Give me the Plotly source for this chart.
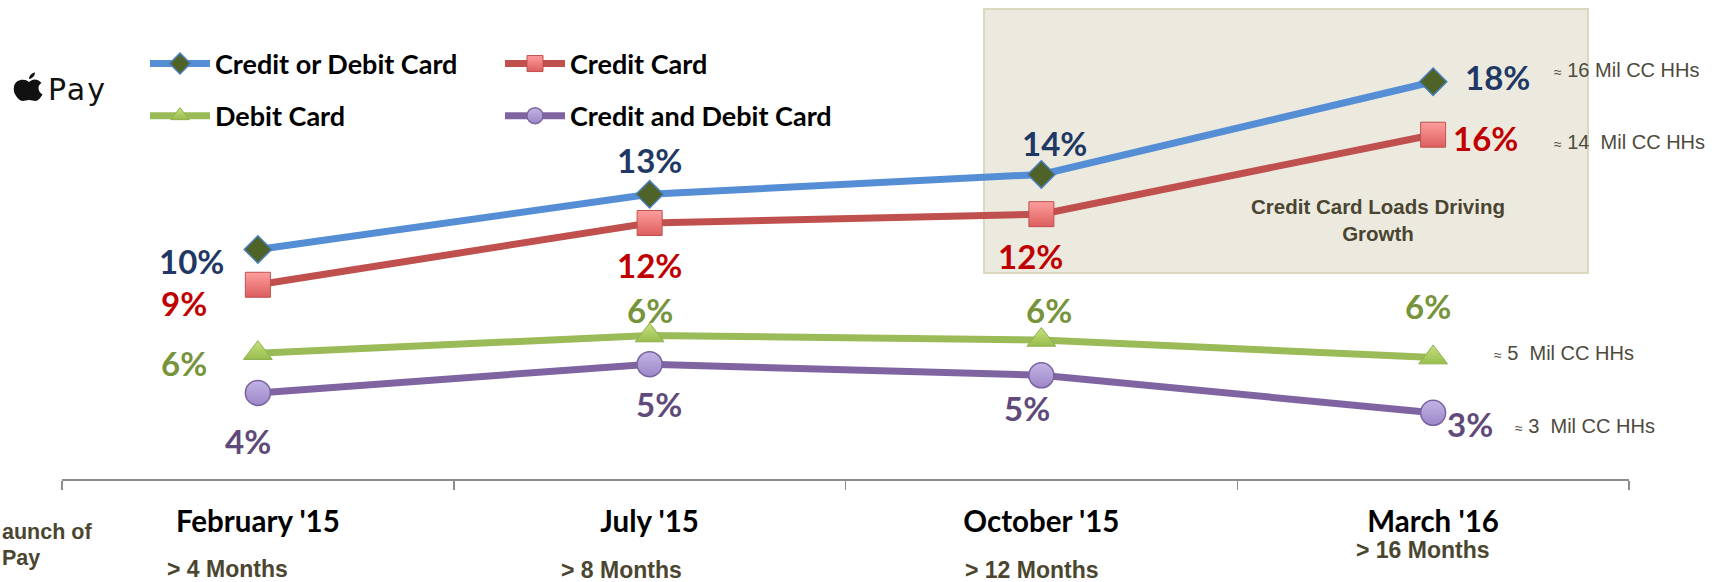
import re
import plotly.graph_objects as go

# ---------------- data ----------------
categories = ["February '15", "July '15", "October '15", "March '16"]
months_since = ["> 4 Months", "> 8 Months", "> 12 Months", "> 16 Months"]
series_names = ["Credit or Debit Card", "Credit Card", "Debit Card", "Credit and Debit Card"]

credit_or_debit = [10.4, 12.9, 13.8, 18.0]
credit_only = [8.8, 11.6, 12.0, 15.6]
debit_only = [5.7, 6.5, 6.3, 5.5]
credit_and_debit = [3.9, 5.2, 4.7, 3.0]

credit_or_debit_labels = ["10%", "13%", "14%", "18%"]
credit_only_labels = ["9%", "12%", "12%", "16%"]
debit_only_labels = ["6%", "6%", "6%", "6%"]
credit_and_debit_labels = ["4%", "5%", "5%", "3%"]

households = ["16", "14", "5", "3"]
box_note = "Credit Card Loads Driving<br>Growth"

# ---------------- geometry helpers ----------------
W, H = 1718, 582
PL, PR, PT, PB = 62, 1629, 10, 479
PW, PH = PR - PL, PB - PT
PX_PER_PCT = 22.07
YMAX = PH / PX_PER_PCT


def px2x(p):
    return (p - PL) / PW


def px2y(p):
    return (PB - p) / PH


def path_px(d):
    toks = re.findall(r"[A-Za-z]|-?\d+\.?\d*", d)
    out, nums = [], []
    for t in toks:
        if re.match(r"[A-Za-z]", t):
            out.append(t)
        else:
            nums.append(float(t))
            if len(nums) == 2:
                out.append(f"{px2x(nums[0]):.5f},{px2y(nums[1]):.5f}")
                nums = []
    return " ".join(out)


# ---------------- styles ----------------
line_colors = ["#558ED5", "#C0504D", "#9BBB59", "#8064A2"]
label_colors = ["#1F3864", "#C00000", "#77933C", "#604A7B"]
markers = [
    dict(symbol="diamond", size=21, color="#4F6228", line=dict(color="#4A7EBB", width=1.5)),
    dict(symbol="square", size=25, color="#FF9E9E", gradient=dict(type="vertical", color="#DC5E5E"),
         line=dict(color="#C0504D", width=1)),
    dict(symbol="triangle-up", size=25, color="#C7E07E", gradient=dict(type="vertical", color="#98BD4E"),
         line=dict(color="#8EAF4C", width=1)),
    dict(symbol="circle", size=25, color="#C2B4E4", gradient=dict(type="vertical", color="#9C87C8"),
         line=dict(color="#7B62A0", width=1.5)),
]
legend_of = ["legend", "legend2", "legend", "legend2"]

values = [credit_or_debit, credit_only, debit_only, credit_and_debit]
labels = [credit_or_debit_labels, credit_only_labels, debit_only_labels, credit_and_debit_labels]

# label offsets in pixels (dx right, dy down) from each point
label_offsets = [
    [(-66, 12), (0, -34), (13, -31), (64, -5)],
    [(-74, 18), (0, 42), (-11, 42), (52, 3)],
    [(-74, 10), (0, -26), (8, -30), (-5, -52)],
    [(-10, 48), (9, 40), (-14, 33), (37, 11)],
]
hh_offsets = [(119, -12), (119, 7), (59, -5), (80, 13)]

fig = go.Figure()
for i in range(4):
    fig.add_trace(go.Scatter(
        x=categories, y=values[i], name=series_names[i], mode="lines+markers",
        line=dict(color=line_colors[i], width=7), marker=markers[i],
        legend=legend_of[i], legendgroup=series_names[i], hoverinfo="skip",
        cliponaxis=False,
    ))

annotations = []
label_font = "Lato, 'Open Sans', sans-serif"
arial = "'Liberation Sans', Arial, sans-serif"
for i in range(4):
    for j in range(4):
        dx, dy = label_offsets[i][j]
        annotations.append(dict(
            x=categories[j], y=values[i][j], xref="x", yref="y", text=labels[i][j],
            showarrow=False, xshift=dx, yshift=-dy, xanchor="center", yanchor="middle",
            font=dict(family=label_font, size=33, color=label_colors[i], weight="bold"),
        ))
    dx, dy = hh_offsets[i]
    annotations.append(dict(
        x=categories[3], y=values[i][3], xref="x", yref="y",
        text="<span style='font-size:14px'>≈</span> " + households[i] + ("" if i == 0 else "\u00a0") + " Mil CC HHs",
        showarrow=False, xshift=dx, yshift=-dy, xanchor="left", yanchor="middle",
        font=dict(family=arial, size=20, color="#4D4A3C"),
    ))

# months since launch
months_pos = [(-30, 569), (-28, 570), (-9, 570), (-10, 550)]
for j in range(4):
    dx, py = months_pos[j]
    annotations.append(dict(
        x=categories[j], xref="x", y=px2y(py), yref="paper", text=months_since[j],
        showarrow=False, xshift=dx, xanchor="center", yanchor="middle",
        font=dict(family=arial, size=23, color="#4B4630", weight="bold"),
    ))

# cut-off left note
annotations.append(dict(x=px2x(0), y=px2y(532), xref="paper", yref="paper", text="aunch of",
                        showarrow=False, xanchor="left", yanchor="middle",
                        font=dict(family=arial, size=21.5, color="#4B4630", weight="bold")))
annotations.append(dict(x=px2x(0), y=px2y(558), xref="paper", yref="paper", text="Pay",
                        showarrow=False, xanchor="left", yanchor="middle",
                        font=dict(family=arial, size=21.5, color="#4B4630", weight="bold")))

# box note
annotations.append(dict(x=px2x(1378), y=px2y(219.5), xref="paper", yref="paper", text=box_note,
                        showarrow=False, xanchor="center", yanchor="middle", align="center",
                        font=dict(family=arial, size=20.5, color="#4A4530", weight="bold")))

# Apple Pay wordmark
annotations.append(dict(x=px2x(46), y=px2y(90), xref="paper", yref="paper",
                        text="<span style='letter-spacing:2px'>Pay</span>",
                        showarrow=False, xanchor="left", yanchor="middle",
                        font=dict(family="'DejaVu Sans', sans-serif", size=30, color="#111111")))

apple_body = ("M 29,82 C 26,79.5 21,79 17,81.5 C 13,84.5 13,91 15.5,95 C 17.5,98.5 20,101 22.5,101 "
              "C 25,101 26,100 29,100 C 32,100 33,101 35.5,101 C 38,101 40.5,98 42.5,94.5 "
              "C 40,93 38.5,91 38.5,88 C 38.5,85.5 40,84 41.5,83 C 39.5,80.5 37,79.5 34.5,79.5 "
              "C 32.5,79.5 31,80.8 29,82 Z")
apple_leaf = "M 29,79 C 29,76 31.5,73 35,72.5 C 35,75.5 32.5,78.5 29,79 Z"

shapes = [
    dict(type="rect", xref="paper", yref="paper", x0=px2x(984), x1=px2x(1588), y0=px2y(273), y1=px2y(9),
         fillcolor="#ECEADF", line=dict(color="#DCD8C0", width=2), layer="below"),
    dict(type="path", xref="paper", yref="paper", path=path_px(apple_body), fillcolor="#111111",
         line=dict(width=0)),
    dict(type="path", xref="paper", yref="paper", path=path_px(apple_leaf), fillcolor="#111111",
         line=dict(width=0)),
]

legend_common = dict(
    orientation="v", xref="container", yref="container", xanchor="left", yanchor="middle",
    bgcolor="rgba(0,0,0,0)", borderwidth=0, itemwidth=60, tracegroupgap=14, itemclick=False,
    font=dict(family=label_font, size=27, color="#000000", weight="bold"),
)

fig.update_layout(
    width=W, height=H, autosize=False,
    margin=dict(l=PL, r=W - PR, t=PT, b=H - PB, pad=0, autoexpand=False),
    paper_bgcolor="white", plot_bgcolor="white",
    showlegend=True,
    legend=dict(legend_common, x=145 / W, y=1 - 90 / H),
    legend2=dict(legend_common, x=500 / W, y=1 - 90 / H),
    xaxis=dict(
        type="category", categoryorder="array", categoryarray=categories,
        range=[-0.5, 3.5], tickson="boundaries", ticks="outside", ticklen=9,
        tickcolor="#8C8C8C", tickwidth=1.5, showline=True, linecolor="#8C8C8C", linewidth=1.5,
        showgrid=False, zeroline=False, ticklabelstandoff=16,
        tickfont=dict(family=label_font, size=29.5, color="#000000", weight="bold"),
        fixedrange=True,
    ),
    yaxis=dict(range=[0, YMAX], visible=False, showgrid=False, zeroline=False, fixedrange=True),
    annotations=annotations,
    shapes=shapes,
)

fig.write_html(
    "out.html",
    config={"displayModeBar": False, "staticPlot": True},
    post_script="document.body.style.margin='0';document.body.style.padding='0';"
                "document.body.style.overflow='hidden';",
)
